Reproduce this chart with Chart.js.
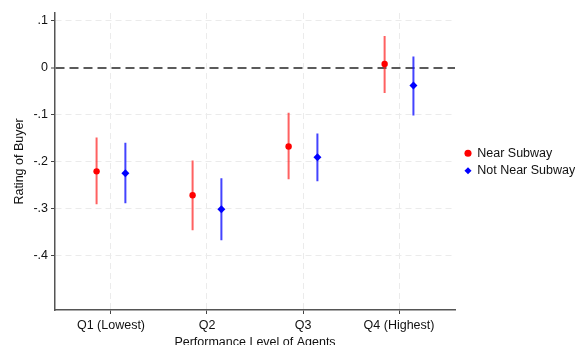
<!DOCTYPE html>
<html>
<head>
<meta charset="utf-8">
<script src="https://cdn.jsdelivr.net/npm/chart.js@4"></script>
<style>
  html, body { margin: 0; padding: 0; background: #fff; }
  #wrap { width: 575px; height: 345px; }
</style>
</head>
<body>
<div id="wrap"><canvas id="myChart"></canvas></div>
<script>
// data
var categories = ['Q1 (Lowest)', 'Q2', 'Q3', 'Q4 (Highest)'];
var yTicks = [0.1, 0, -0.1, -0.2, -0.3, -0.4];

var nearEst = [-0.221, -0.272, -0.168, 0.008];
var nearLo = [-0.291, -0.347, -0.238, -0.054];
var nearHi = [-0.149, -0.198, -0.096, 0.068];

var notEst = [-0.225, -0.302, -0.191, -0.038];
var notLo = [-0.289, -0.368, -0.242, -0.102];
var notHi = [-0.160, -0.236, -0.140, 0.024];

var shift = 0.15;

function points(est, off) {
    return est.map(function (v, i) { return { x: i + 1 + off, y: v }; });
}
function bars(lo, hi, off) {
    var out = [];
    lo.forEach(function (v, i) {
        out.push({ x: i + 1 + off, y: v });
        out.push({ x: i + 1 + off, y: hi[i] });
        out.push({ x: i + 1 + off, y: null });
    });
    return out;
}

function fmt(v) {
    if (v === 0) return '0';
    var s = Math.abs(v).toFixed(1).replace(/^0/, '');
    return (v < 0 ? '-' : '') + s;
}

var font = { family: 'Liberation Sans, Arial, sans-serif', size: 12.5 };

// nudge the legend up/right so it sits where the original has it
var legendNudge = {
    id: 'legendNudge',
    afterLayout: function (chart) {
        var lg = chart.legend;
        lg.top -= 17; lg.bottom -= 17;
        lg.left += 5; lg.right += 5;
    }
};

var ctx = document.getElementById('myChart').getContext('2d');
var myChart = new Chart(ctx, {
    type: 'scatter',
    data: {
        datasets: [{
            label: 'Near Subway',
            data: points(nearEst, -shift),
            pointStyle: 'circle',
            pointRadius: 3.2,
            backgroundColor: '#ff0000',
            borderColor: '#ff0000',
            borderWidth: 0
        },
        {
            label: 'Not Near Subway',
            data: points(notEst, shift),
            pointStyle: 'rectRot',
            pointRadius: 4,
            backgroundColor: '#0000ff',
            borderColor: '#0000ff',
            borderWidth: 0
        },
        {
            label: 'ci near',
            data: bars(nearLo, nearHi, -shift),
            showLine: true,
            spanGaps: false,
            pointRadius: 0,
            borderColor: 'rgba(255, 30, 30, 0.7)',
            borderWidth: 2
        },
        {
            label: 'ci not near',
            data: bars(notLo, notHi, shift),
            showLine: true,
            spanGaps: false,
            pointRadius: 0,
            borderColor: 'rgba(20, 20, 255, 0.8)',
            borderWidth: 2
        }]
    },
    options: {
        responsive: true,
        maintainAspectRatio: false,
        animation: false,
        layout: { padding: { top: 13, right: 4, left: 0, bottom: 0 } },
        plugins: {
            tooltip: { enabled: false },
            legend: {
                position: 'right',
                maxWidth: 116,
                labels: {
                    usePointStyle: true,
                    boxWidth: 6,
                    boxHeight: 5,
                    padding: 5,
                    color: '#111',
                    font: font,
                    filter: function (item) { return item.datasetIndex < 2; }
                }
            }
        },
        scales: {
            x: {
                type: 'linear',
                min: 0.417,
                max: 4.583,
                afterFit: function (s) { s.height = 35; },
                afterBuildTicks: function (s) {
                    s.ticks = categories.map(function (c, i) { return { value: i + 1 }; });
                },
                ticks: {
                    color: '#111',
                    font: font,
                    padding: 4,
                    maxRotation: 0,
                    callback: function (v) { return categories[v - 1]; }
                },
                grid: {
                    color: '#ebebeb',
                    lineWidth: 1,
                    tickLength: 4,
                    tickColor: '#444',
                    tickWidth: 1
                },
                border: { color: '#555', width: 1.5, dash: [6, 4] },
                title: {
                    display: true,
                    text: 'Performance Level of Agents',
                    color: '#111',
                    font: font,
                    padding: { top: 0, bottom: -5.5 }
                }
            },
            y: {
                min: -0.517,
                max: 0.117,
                afterFit: function (s) { s.width = 55; },
                afterBuildTicks: function (s) {
                    s.ticks = yTicks.map(function (v) { return { value: v }; });
                },
                ticks: {
                    color: '#111',
                    font: font,
                    padding: 3,
                    callback: function (v) { return fmt(v); }
                },
                grid: {
                    color: function (c) { return c.tick && c.tick.value === 0 ? '#5a5a5a' : '#ebebeb'; },
                    lineWidth: function (c) { return c.tick && c.tick.value === 0 ? 2 : 1; },
                    tickLength: 4,
                    tickColor: '#444',
                    tickWidth: 1
                },
                border: {
                    color: '#555',
                    width: 1.5,
                    dash: function (c) { return c.tick && c.tick.value === 0 ? [9, 5] : [6, 4]; }
                },
                title: {
                    display: true,
                    text: 'Rating of Buyer',
                    color: '#111',
                    font: font,
                    padding: { top: 12.5, bottom: 0 }
                }
            }
        }
    },
    plugins: [legendNudge]
});
</script>
</body>
</html>
